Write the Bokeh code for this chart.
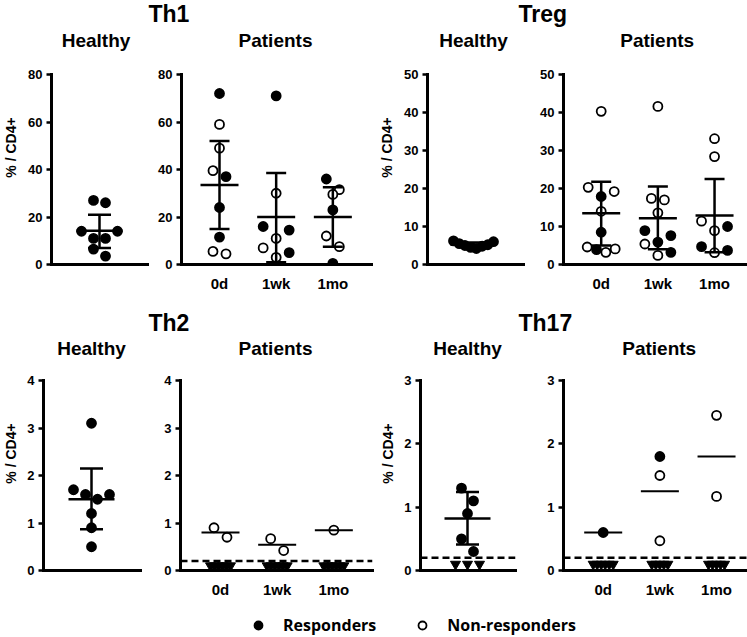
import numpy as np
from bokeh.plotting import figure
from bokeh.models import Range1d, FixedTicker, Label, Span, Legend, LegendItem, ColumnDataSource
from bokeh.layouts import row, column
from bokeh.embed import file_html
from bokeh.resources import INLINE

# ---------------- data ----------------
timepoints = ["0d", "1wk", "1mo"]
lod = 0.2            # detection limit (dashed line)
below_lod = 0.1      # value at which undetected samples are drawn

# Th1
th1_healthy = [27, 26, 14, 14, 11, 11, 6.5, 3.5]
th1_healthy_mean, th1_healthy_low, th1_healthy_high = 14.2, 7.0, 21.0
th1_pat = [[72, 59, 49, 39.5, 37, 24, 11.5, 5.5, 4.5],
           [71, 30, 16, 14.5, 11, 7, 5, 3],
           [36, 31.5, 29.5, 23, 12, 7.5, 0.5]]
th1_pat_resp = [[1, 0, 0, 0, 1, 1, 1, 0, 0],
                [1, 0, 1, 1, 0, 0, 1, 0],
                [1, 0, 0, 1, 0, 0, 1]]
th1_pat_mean = [33.5, 20.0, 20.0]
th1_pat_low = [15.0, 1.0, 7.5]
th1_pat_high = [52.0, 38.5, 32.5]

# Treg
treg_healthy = [6.2, 6.0, 5.5, 5.2, 5.0, 4.8, 4.5, 4.2]
treg_healthy_mean, treg_healthy_low, treg_healthy_high = 5.2, 4.6, 5.8
treg_pat = [[40.3, 20.3, 19.2, 17.9, 14.0, 8.5, 4.6, 4.1, 3.9, 3.2],
            [41.6, 17.4, 17.0, 13.6, 8.9, 7.6, 5.9, 5.4, 3.2, 2.4],
            [33.1, 28.4, 11.4, 10.0, 8.9, 4.7, 3.7, 3.1]]
treg_pat_resp = [[0, 0, 0, 1, 0, 1, 0, 0, 1, 0],
                 [0, 0, 0, 0, 1, 1, 1, 0, 1, 0],
                 [0, 0, 0, 1, 0, 1, 1, 0]]
treg_pat_mean = [13.5, 12.2, 12.9]
treg_pat_low = [5.0, 4.0, 3.2]
treg_pat_high = [21.8, 20.5, 22.5]

# Th2
th2_healthy = [3.1, 1.7, 1.6, 1.6, 1.5, 1.2, 0.9, 0.5]
th2_healthy_mean, th2_healthy_low, th2_healthy_high = 1.5, 0.87, 2.15
th2_pat = [[0.9, 0.7], [0.67, 0.42], [0.85]]
th2_pat_resp = [[0, 0], [0, 0], [0]]
th2_pat_undetected = [6, 6, 6]
th2_pat_mean = [0.8, 0.54, 0.85]

# Th17
th17_healthy = [1.3, 1.1, 0.9, 0.5, 0.3]
th17_healthy_undetected = 3
th17_healthy_mean, th17_healthy_low, th17_healthy_high = 0.82, 0.41, 1.24
th17_pat = [[0.6], [1.8, 1.5, 0.47], [2.45, 1.17]]
th17_pat_resp = [[1], [1, 0, 0], [0, 0]]
th17_pat_undetected = [6, 5, 5]
th17_pat_mean = [0.6, 1.25, 1.8]

th1_ticks = [0, 20, 40, 60, 80]
treg_ticks = [0, 10, 20, 30, 40, 50]
th2_ticks = [0, 1, 2, 3, 4]
th17_ticks = [0, 1, 2, 3]

# ---------------- styling ----------------
FONT = "Liberation Sans"
STEP = 56.67          # px between timepoints
AXIS_H = 190          # px from 0 to the top tick
FRAME_H = 234         # frame also holds the panel sub-titles
DOT = 9
LW = 2.5


def row_offsets(vals, ppu, spacing, limit, row_h=13.0):
    """Prism-like scatter spreading: points with close values share a row."""
    v = np.asarray(vals, float)
    offs = np.zeros(len(v))
    order = np.argsort(-v, kind="stable")
    i = 0
    while i < len(order):
        start = v[order[i]]
        grp = [order[i]]
        j = i + 1
        while j < len(order) and (start - v[order[j]]) * ppu < row_h:
            grp.append(order[j])
            j += 1
        n = len(grp)
        s = spacing
        if n > 1 and (n - 1) * s / 2 > limit:
            s = 2 * limit / (n - 1)
        pos = [(k - (n - 1) / 2) * s for k in range(n)]
        pos.sort(key=lambda q: (-abs(q), q))
        for idx, q in zip(grp, pos):
            offs[idx] = q
        i = j
    return offs


def base(fw, ymax, yticks, bl, br, bb, xr):
    p = figure(frame_width=fw, frame_height=FRAME_H, x_range=xr,
               y_range=Range1d(0, ymax * FRAME_H / AXIS_H),
               min_border_left=bl, min_border_right=br, min_border_top=0, min_border_bottom=bb,
               output_backend="svg", toolbar_location=None, tools="")
    p.outline_line_color = None
    p.grid.visible = False
    for ax in (p.xaxis[0], p.yaxis[0]):
        ax.axis_line_width = 3
        ax.axis_line_color = "black"
        ax.axis_line_cap = "square"
        ax.minor_tick_line_color = None
        ax.major_tick_in = 0
        ax.major_label_text_font = FONT
        ax.major_label_text_font_style = "bold"
        ax.major_label_text_color = "black"
    p.yaxis.bounds = (0, ymax)
    p.yaxis.ticker = FixedTicker(ticks=yticks)
    p.yaxis.major_tick_out = 5
    p.yaxis.major_tick_line_width = 2.5
    p.yaxis.major_label_text_font_size = "13px"
    p.yaxis.major_label_standoff = 4
    return p


def add_sub(p, text, x, y):
    p.add_layout(Label(x=x, y=y, x_units="screen", y_units="screen", text=text,
                       text_align="center", text_baseline="middle", text_font=FONT,
                       text_font_style="bold", text_font_size="19px", text_color="black"))


def healthy(vals, mean, low, high, ymax, yticks, fw, bl, br, bb, center, label_standoff, undetected=0):
    ppu = AXIS_H / ymax
    p = base(fw, ymax, yticks, bl, br, bb, Range1d(-center, fw - center))
    p.xaxis.ticker = FixedTicker(ticks=[])
    p.xaxis.major_tick_out = 0
    p.yaxis.axis_label = "% / CD4+"
    p.yaxis.axis_label_text_font = FONT
    p.yaxis.axis_label_text_font_style = "bold"
    p.yaxis.axis_label_text_font_size = "14px"
    p.yaxis.axis_label_text_color = "black"
    p.yaxis.axis_label_standoff = label_standoff
    if undetected:
        p.add_layout(Span(location=lod, dimension="width", line_dash="7 4", line_width=2.5,
                          line_color="black", level="underlay"))
        tv = [below_lod] * undetected
        p.scatter(row_offsets(tv, ppu, 12, 20), tv, marker="inverted_triangle", size=10,
                  fill_color="black", line_color="black", line_width=1)
    xs = row_offsets(vals, ppu, 12, 20)
    p.scatter(xs, vals, marker="circle", size=DOT, fill_color="black", line_color="black", line_width=1.8)
    p.segment(x0=[0], y0=[low], x1=[0], y1=[high], line_width=LW, line_color="black")
    p.scatter([0], [mean], marker="dash", size=46, line_width=LW, line_color="black")
    p.scatter([0, 0], [low, high], marker="dash", size=23, line_width=LW, line_color="black")
    return p


def patients(groups, resp, mean, ymax, yticks, fw, bl, br, bb, first,
             low=None, high=None, undetected=None):
    ppu = AXIS_H / ymax
    start = 1 - first / STEP
    p = base(fw, ymax, yticks, bl, br, bb, Range1d(start, start + fw / STEP))
    p.xaxis.ticker = FixedTicker(ticks=[1, 2, 3])
    p.xaxis.major_label_overrides = {i + 1: t for i, t in enumerate(timepoints)}
    p.xaxis.major_tick_out = 0
    p.xaxis.major_label_text_font_size = "15px"
    p.xaxis.major_label_standoff = 10
    if undetected:
        p.add_layout(Span(location=lod, dimension="width", line_dash="7 4", line_width=2.5,
                          line_color="black", level="underlay"))
        tx, ty = [], []
        for g, n in enumerate(undetected):
            tv = [below_lod] * n
            tx += list(g + 1 + row_offsets(tv, ppu, 4, 10) / STEP)
            ty += tv
        p.scatter(tx, ty, marker="inverted_triangle", size=10, fill_color="black",
                  line_color="black", line_width=1)
    px, py, pc = [], [], []
    for g, (vals, rs) in enumerate(zip(groups, resp)):
        px += list(g + 1 + row_offsets(vals, ppu, 13, 14) / STEP)
        py += list(vals)
        pc += ["black" if r else "white" for r in rs]
    src = ColumnDataSource(dict(x=px, y=py, c=pc))
    p.scatter("x", "y", source=src, marker="circle", size=DOT, fill_color="c",
              line_color="black", line_width=1.8)
    gx = [1, 2, 3]
    if low is not None:
        p.segment(x0=gx, y0=low, x1=gx, y1=high, line_width=LW, line_color="black")
        p.scatter(gx, low, marker="dash", size=20, line_width=LW, line_color="black")
        p.scatter(gx, high, marker="dash", size=20, line_width=LW, line_color="black")
        p.scatter(gx, mean, marker="dash", size=38, line_width=LW, line_color="black")
    else:
        p.scatter(gx, mean, marker="dash", size=38, line_width=2, line_color="black")
    return p


def strip(height, titles, y):
    s = figure(frame_width=747, frame_height=height, min_border=0, x_range=Range1d(0, 1),
               y_range=Range1d(0, 1), x_axis_location=None, y_axis_location=None,
               output_backend="svg", toolbar_location=None, tools="")
    s.outline_line_color = None
    s.grid.visible = False
    for text, x in titles:
        s.add_layout(Label(x=x, y=y, x_units="screen", y_units="screen", text=text,
                           text_align="left", text_baseline="top", text_font=FONT,
                           text_font_style="bold", text_font_size="23px", text_color="black"))
    return s


# ---------------- big titles ----------------
top_strip = strip(30, [("Th1", 148), ("Treg", 518)], 30)
mid_strip = strip(36, [("Th2", 148), ("Th17", 518)], 26.6)

# ---------------- top row ----------------
TOP_BB = 36
a = healthy(th1_healthy, th1_healthy_mean, th1_healthy_low, th1_healthy_high, 80, th1_ticks,
            96, 47, 7, TOP_BB, 48, 6)
add_sub(a, "Healthy", 44.5, 224)
b = patients(th1_pat, th1_pat_resp, th1_pat_mean, 80, th1_ticks, 190, 27, 5, TOP_BB, 38,
             low=th1_pat_low, high=th1_pat_high)
add_sub(b, "Patients", 94, 224)
c = healthy(treg_healthy, treg_healthy_mean, treg_healthy_low, treg_healthy_high, 50, treg_ticks,
            96, 47, 5, TOP_BB, 46, 6)
add_sub(c, "Healthy", 46, 224)
d = patients(treg_pat, treg_pat_resp, treg_pat_mean, 50, treg_ticks, 192, 35, 0, TOP_BB, 37.7,
             low=treg_pat_low, high=treg_pat_high)
add_sub(d, "Patients", 93.7, 224)

# ---------------- bottom row ----------------
BOT_BB = 26
e = healthy(th2_healthy, th2_healthy_mean, th2_healthy_low, th2_healthy_high, 4, th2_ticks,
            97, 38, 10, BOT_BB, 48, 5)
add_sub(e, "Healthy", 48, 222)
f = patients(th2_pat, th2_pat_resp, th2_pat_mean, 4, th2_ticks, 192, 30, 5, BOT_BB, 40,
             undetected=th2_pat_undetected)
add_sub(f, "Patients", 95, 222)
g = healthy(th17_healthy, th17_healthy_mean, th17_healthy_low, th17_healthy_high, 3, th17_ticks,
            95, 38, 15, BOT_BB, 47, 5, undetected=th17_healthy_undetected)
add_sub(g, "Healthy", 47, 222)
h = patients(th17_pat, th17_pat_resp, th17_pat_mean, 3, th17_ticks, 194, 33, 0, BOT_BB, 39.7,
             undetected=th17_pat_undetected)
add_sub(h, "Patients", 95.7, 222)

# ---------------- legend ----------------
lg = figure(frame_width=747, frame_height=41, min_border=0, x_range=Range1d(0, 1), y_range=Range1d(0, 1),
            x_axis_location=None, y_axis_location=None, output_backend="svg",
            toolbar_location=None, tools="")
lg.outline_line_color = None
lg.grid.visible = False
# one hidden (off-range) point each so the legend can draw its glyph
r1 = lg.scatter(x=[5], y=[5], marker="circle", size=DOT, fill_color="black", line_color="black", line_width=1.8)
r2 = lg.scatter(x=[5], y=[5], marker="circle", size=DOT, fill_color="white", line_color="black", line_width=1.8)
legend = Legend(items=[LegendItem(label="Responders", renderers=[r1]),
                       LegendItem(label="Non-responders", renderers=[r2])],
                orientation="horizontal", location=(246, 5), padding=0, margin=0,
                spacing=34, label_standoff=13, glyph_width=24, glyph_height=20, label_height=20,
                border_line_color=None, background_fill_alpha=0,
                label_text_font="Open Sans", label_text_font_style="bold",
                label_text_font_size="16px", label_text_color="black")
lg.add_layout(legend, "center")

layout = column(top_strip, row(a, b, c, d), mid_strip, row(e, f, g, h), lg)
open("out.html", "w").write(file_html(layout, INLINE))
